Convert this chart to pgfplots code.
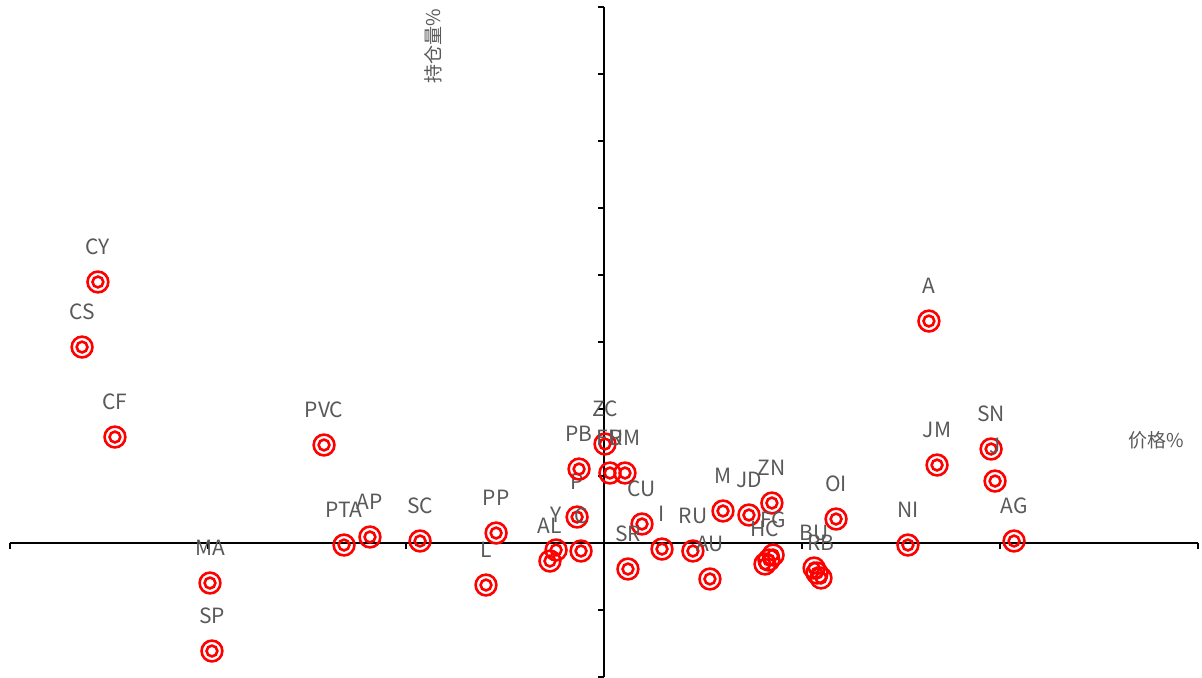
\documentclass[border=0pt]{standalone}
\usepackage{fontspec}
\setmainfont{Noto Sans CJK SC}
\usepackage{pgfplots}
\usepackage{pgfplotstable}
\pgfplotsset{compat=1.18}

\definecolor{lbl}{HTML}{595959}
\definecolor{mk}{HTML}{FF0000}

% double ring marker
\pgfdeclareplotmark{dring}{%
  \pgfpathcircle{\pgfpointorigin}{\pgfplotmarksize}\pgfusepathqstroke
  \pgfpathcircle{\pgfpointorigin}{0.52\pgfplotmarksize}\pgfusepathqstroke}

\pgfplotstableread{
x      y      lab
-2.556 3.896  CY
-2.636 2.925  CS
-2.470 1.582  CF
-1.414 1.463  PVC
-1.990 -0.597 MA
-1.980 -1.612 SP
-1.313 -0.030 PTA
-1.182 0.090  AP
-0.929 0.030  SC
-0.545 0.149  PP
-0.596 -0.627 L
-0.242 -0.104 Y
-0.273 -0.269 AL
-0.136 0.388  P
-0.116 -0.119 C
-0.126 1.104  PB
0.005  1.478  ZC
0.030  1.045  FU
0.106  1.045  RM
0.192  0.284  CU
0.121  -0.388 SR
0.293  -0.090 I
0.449  -0.119 RU
0.535  -0.537 AU
0.601  0.478  M
0.732  0.418  JD
0.848  0.597  ZN
0.854  -0.179 FG
0.813  -0.313 HC
1.061  -0.373 BU
1.096  -0.522 RB
1.172  0.358  OI
1.535  -0.030 NI
1.641  3.313  A
1.682  1.164  JM
1.955  1.403  SN
1.975  0.925  J
2.071  0.030  AG
}\pts

\begin{document}
\begin{tikzpicture}
\begin{axis}[
  at={(0,0)}, anchor=south west,
  scale only axis,
  width=594pt, height=335pt,
  xmin=-3, xmax=3, ymin=-2, ymax=8,
  axis lines=middle,
  axis line style={-, line width=0.9pt, black},
  xtick={-3,-2,...,3}, ytick={-2,-1,...,8},
  xticklabels={}, yticklabels={},
  tick align=outside,
  major tick length=3pt,
  tick style={line width=0.9pt, black},
  clip=false,
]
\addplot[only marks, mark=dring, mark size=5.2pt,
  mark options={draw=mk, line width=1.3pt},
  point meta=explicit symbolic,
  nodes near coords,
  every node near coord/.style={anchor=center, yshift=17.5pt,
    font=\fontsize{10.5}{12}\selectfont, text=lbl, inner sep=0pt},
] table[x=x, y=y, meta=lab] {\pts};
% overlapped points whose labels are hidden
\addplot[only marks, mark=dring, mark size=5.2pt,
  mark options={draw=mk, line width=1.3pt}]
  coordinates {(0.833,-0.254) (1.076,-0.448)};
\node[rotate=90, anchor=east, text=lbl, font=\fontsize{9.5}{12}\selectfont, inner sep=0pt]
  at (axis cs:-0.864,7.98) {持仓量\%};
\node[anchor=center, text=lbl, font=\fontsize{9.5}{12}\selectfont, inner sep=0pt]
  at (axis cs:2.79,1.54) {价格\%};
\end{axis}
\pgfresetboundingbox
\useasboundingbox (-5pt,0pt) rectangle (596pt,338.5pt);
\end{tikzpicture}
\end{document}
